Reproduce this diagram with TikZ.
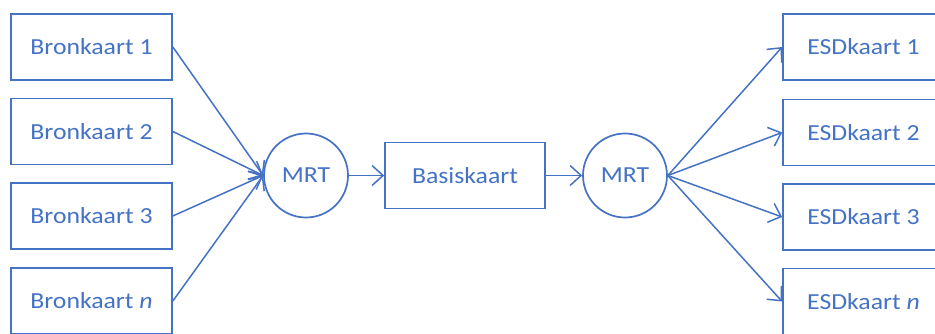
\documentclass[tikz,border=0pt]{standalone}
\usepackage{fontspec}
\setmainfont{Carlito}[FakeStretch=1.12]
\usetikzlibrary{arrows.meta}
\definecolor{kaartblauw}{HTML}{4472C4}
\begin{document}
\begin{tikzpicture}[
  x=1pt, y=-1pt,
  every node/.style={draw=kaartblauw, line width=1.7pt, text=kaartblauw,
    font=\fontsize{23}{27}\selectfont, inner sep=0pt},
  kaart/.style={rectangle, minimum width=161pt, minimum height=66pt},
  mrt/.style={circle, minimum size=84pt},
  pijl/.style={draw=kaartblauw, line width=1.5pt,
    -{Straight Barb[length=11pt, width=20pt, line width=1.5pt]}}
]
\clip (0,0) rectangle (935,334);
% bronkaarten
\node[kaart] (bron1) at (91.5,47)  {Bronkaart 1};
\node[kaart] (bron2) at (91.5,131.5) {Bronkaart 2};
\node[kaart] (bron3) at (91.5,216) {Bronkaart 3};
\node[kaart] (bron4) at (91.5,301) {Bronkaart \textit{n}};
% midden
\node[mrt] (mrtin) at (306,175.5) {MRT};
\node[kaart, minimum width=160pt] (basis) at (465,175.5) {Basiskaart};
\node[mrt] (mrtuit) at (625,175.5) {MRT};
% ESD-kaarten
\node[kaart] (esd1) at (863.5,47)    {ESDkaart 1};
\node[kaart] (esd2) at (863.5,132.5) {ESDkaart 2};
\node[kaart] (esd3) at (863.5,217)   {ESDkaart 3};
\node[kaart] (esd4) at (863.5,301.5) {ESDkaart \textit{n}};
% pijlen
\foreach \i in {1,...,4} {
  \draw[pijl] (bron\i.east) -- (mrtin.west);
  \draw[pijl] (mrtuit.east) -- (esd\i.west);
}
\draw[pijl] (mrtin.east) -- (basis.west);
\draw[pijl] (basis.east) -- (mrtuit.west);
\end{tikzpicture}
\end{document}
